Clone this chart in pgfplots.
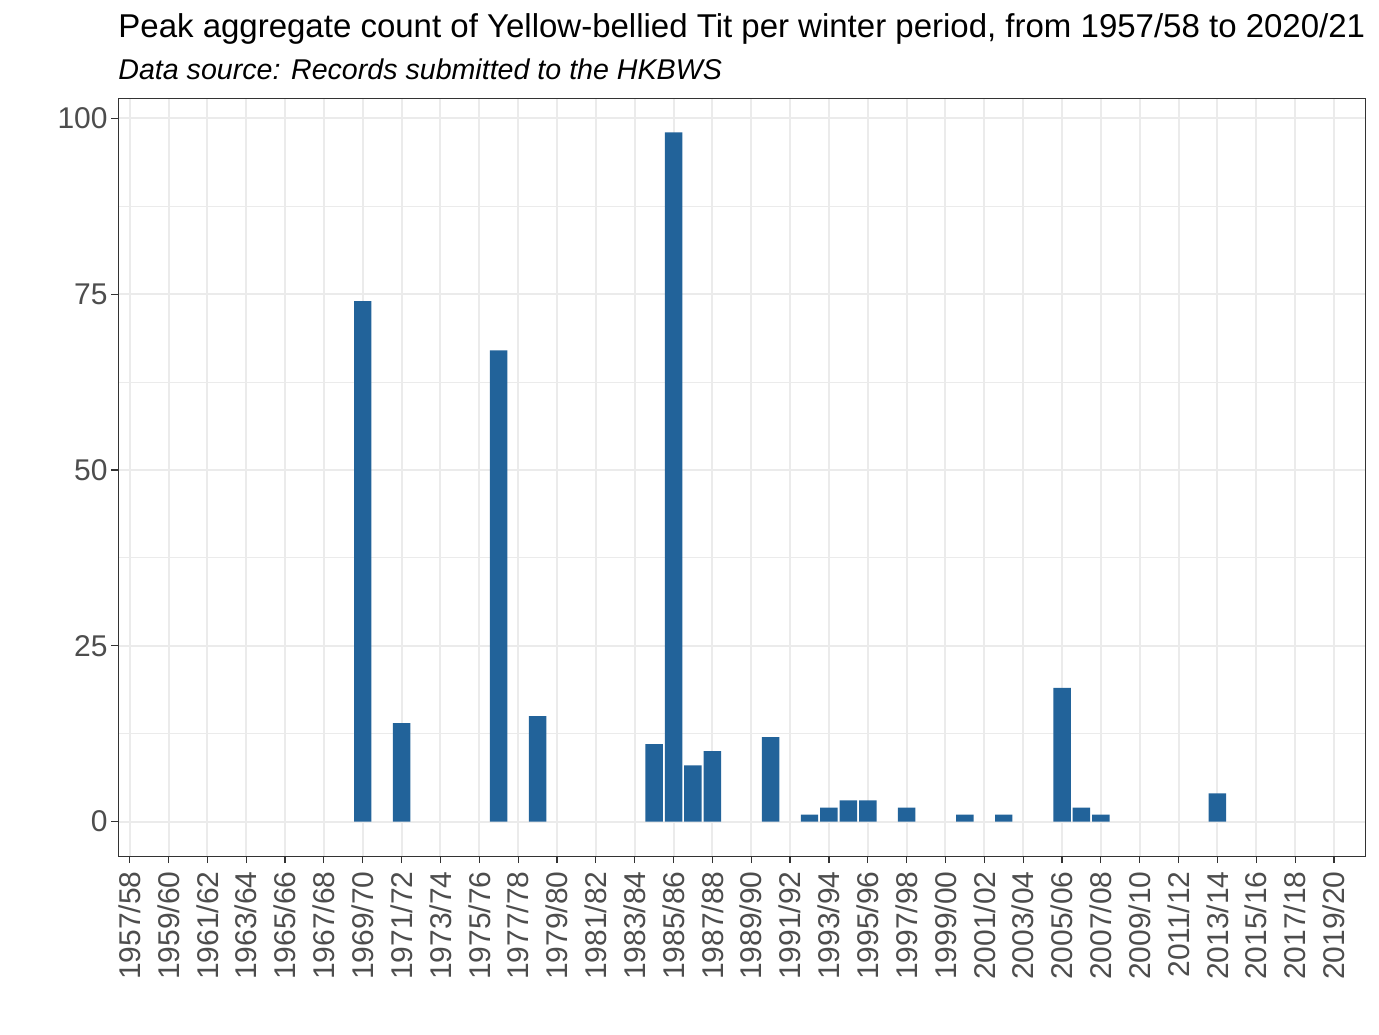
\documentclass[border=0pt]{standalone}
\usepackage{pgfplots}
\pgfplotsset{compat=1.18}
\usepackage{fontspec}
\setmainfont{Liberation Sans}
\definecolor{barblue}{RGB}{34,99,154}
\definecolor{gridc}{HTML}{EBEBEB}
\definecolor{tickc}{HTML}{4D4D4D}
\definecolor{framec}{HTML}{333333}
\begin{document}
\begin{tikzpicture}
\path[use as bounding box] (0pt,0pt) rectangle (689.5pt,-517pt);
\node[anchor=base west,inner sep=0pt,font=\fontsize{16.5}{19}\selectfont] at (59pt,-18.75pt) {Peak aggregate count of Yellow-bellied Tit per winter period, from 1957/58 to 2020/21};
\node[anchor=base west,inner sep=0pt,font=\fontsize{14.3}{17}\selectfont\itshape] at (59pt,-39.5pt) {Data source: Records submitted to the HKBWS};
\begin{axis}[
  at={(59pt,-428pt)}, anchor=south west,
  scale only axis, width=623.5pt, height=379pt,
  xmin=-0.6, xmax=63.6, ymin=-4.9, ymax=102.9,
  axis line style={color=framec, line width=0.5pt},
  xtick={0,2,...,62},
  xticklabels={1957/58,1959/60,1961/62,1963/64,1965/66,1967/68,1969/70,1971/72,1973/74,1975/76,1977/78,1979/80,1981/82,1983/84,1985/86,1987/88,1989/90,1991/92,1993/94,1995/96,1997/98,1999/00,2001/02,2003/04,2005/06,2007/08,2009/10,2011/12,2013/14,2015/16,2017/18,2019/20},
  ytick={0,25,50,75,100},
  minor ytick={12.5,37.5,62.5,87.5},
  minor tick length=0pt,
  tick align=outside, major tick length=3.5pt,
  tick pos=left,
  tick style={color=framec, line width=0.6pt},
  grid=both,
  major grid style={color=gridc, line width=1pt},
  minor grid style={color=gridc, line width=0.5pt},
  xticklabel style={rotate=90, anchor=east, inner sep=0pt, xshift=-4pt, text=tickc, font=\fontsize{15}{18}\selectfont},
  yticklabel style={anchor=east, inner sep=0pt, xshift=-1.5pt, text=tickc, font=\fontsize{15}{18}\selectfont},
  /pgf/number format/assume math mode=true,
]
\addplot[ybar, bar width=0.9, bar shift=0pt, fill=barblue, draw=none] coordinates {
(12,74) (14,14) (19,67) (21,15) (27,11) (28,98) (29,8) (30,10) (33,12)
(35,1) (36,2) (37,3) (38,3) (40,2) (43,1) (45,1) (48,19) (49,2) (50,1) (56,4)
};
\end{axis}
\end{tikzpicture}
\end{document}
